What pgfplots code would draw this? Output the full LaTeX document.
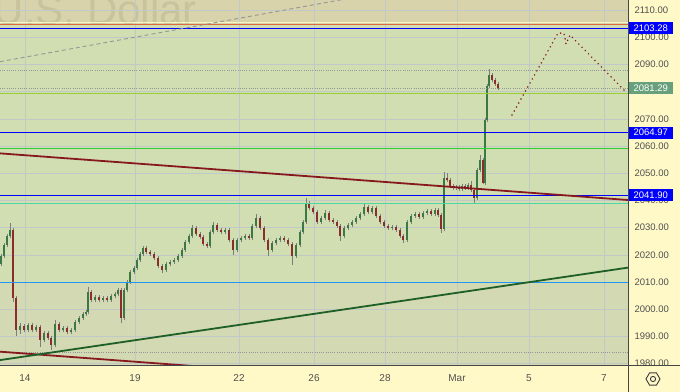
\documentclass[border=0pt]{standalone}
\usepackage{fontspec}
\setmainfont{Liberation Sans}
\usepackage{pgfplots}
\usepackage{pgfplotstable}
\pgfplotsset{compat=1.18}
\usetikzlibrary{shapes.geometric}

\definecolor{panel}{RGB}{255,249,200}
\definecolor{bgG}{RGB}{209,222,177}
\definecolor{bgT}{RGB}{216,211,171}
\definecolor{bgB}{RGB}{211,217,178}
\definecolor{gridc}{RGB}{192,201,200}
\definecolor{wm}{RGB}{199,195,157}
\definecolor{tickc}{RGB}{80,80,80}
\definecolor{framec}{RGB}{70,70,70}
\definecolor{maroonc}{RGB}{135,25,30}
\definecolor{dgreen}{RGB}{30,95,40}
\definecolor{blueL}{RGB}{0,0,255}
\definecolor{mint}{RGB}{80,215,165}
\definecolor{ygreen}{RGB}{154,205,50}
\definecolor{green2}{RGB}{50,205,50}
\definecolor{lightblue}{RGB}{33,150,243}
\definecolor{orangel}{RGB}{225,105,65}
\definecolor{paleline}{RGB}{245,245,190}
\definecolor{dotgray}{RGB}{150,150,150}
\definecolor{wickc}{RGB}{125,125,125}
\definecolor{upc}{RGB}{60,120,70}
\definecolor{dnc}{RGB}{140,45,45}
\definecolor{boxgreen}{RGB}{104,160,124}
\definecolor{gearc}{RGB}{60,60,60}

\pgfplotstableread{
x o h l c
1 2016.8 2020.4 2016.0 2019.6
4 2019.6 2024.4 2018.8 2023.6
7 2023.6 2027.7 2022.8 2026.9
10 2026.9 2031.7 2026.1 2029.1
13 2029.1 2029.8 2002.6 2004.1
16 2004.1 2004.8 1990.2 1992.4
20 1992.4 1995.0 1990.9 1993.8
24 1993.8 1994.6 1991.6 1992.4
28 1992.4 1995.0 1991.6 1994.2
32 1994.2 1995.0 1991.6 1992.4
36 1992.4 1994.3 1991.6 1993.5
40 1993.5 1994.3 1986.1 1988.7
44 1988.7 1992.1 1987.9 1991.3
48 1991.3 1992.1 1988.6 1989.4
51 1989.4 1990.2 1985.0 1986.8
55 1986.8 1996.0 1986.0 1994.6
59 1994.6 1995.4 1991.6 1992.4
63 1992.4 1993.9 1991.6 1993.1
67 1993.1 1993.9 1990.8 1991.6
71 1991.6 1993.2 1990.8 1992.4
75 1992.4 1996.1 1991.6 1995.3
79 1995.3 1997.6 1994.5 1996.8
83 1996.8 1999.0 1996.0 1998.2
86 1998.2 1999.8 1997.4 1999.0
88 1999.0 2008.2 1998.2 2006.3
91 2006.3 2007.1 2002.6 2003.4
95 2003.4 2005.3 2002.6 2004.5
99 2004.5 2005.3 2002.6 2003.4
103 2003.4 2004.9 2002.6 2004.1
107 2004.1 2004.9 2002.6 2003.4
111 2003.4 2005.7 2002.6 2004.9
115 2004.9 2006.4 2004.1 2005.6
118 2005.6 2007.9 2004.8 2007.1
121 2007.1 2007.9 1994.9 1996.8
124 1996.8 2007.9 1996.0 2007.1
127 2007.1 2010.8 2006.3 2010.0
130 2010.0 2014.5 2009.2 2013.7
134 2013.7 2016.0 2012.9 2015.2
137 2015.2 2018.9 2014.4 2018.1
140 2018.1 2021.1 2017.3 2020.3
143 2020.3 2023.3 2019.5 2022.5
146 2022.5 2023.3 2020.2 2021.0
150 2021.0 2021.8 2019.5 2020.3
154 2020.3 2021.1 2018.0 2018.8
158 2018.8 2019.6 2015.1 2015.9
162 2015.9 2016.7 2013.3 2014.4
166 2014.4 2017.4 2013.6 2016.6
170 2016.6 2018.2 2015.8 2017.4
174 2017.4 2018.9 2016.6 2018.1
178 2018.1 2020.4 2017.3 2019.6
182 2019.6 2022.6 2018.8 2021.8
185 2021.8 2025.5 2021.0 2024.7
189 2024.7 2027.7 2023.9 2026.9
192 2026.9 2031.0 2026.1 2029.9
196 2029.9 2030.7 2026.9 2027.7
200 2027.7 2028.5 2025.8 2026.6
203 2026.6 2027.4 2023.2 2024.0
207 2024.0 2024.8 2022.4 2023.2
210 2023.2 2029.2 2022.4 2028.4
213 2028.4 2032.1 2027.6 2031.0
217 2031.0 2031.8 2028.3 2029.1
221 2029.1 2029.9 2027.6 2028.4
225 2028.4 2029.9 2027.6 2029.1
229 2029.1 2029.9 2024.6 2025.4
233 2025.4 2026.2 2019.9 2021.8
237 2021.8 2026.2 2021.0 2025.4
241 2025.4 2027.0 2024.6 2026.2
245 2026.2 2027.7 2025.4 2026.9
249 2026.9 2027.7 2025.4 2026.2
252 2026.2 2031.4 2025.4 2030.6
256 2030.6 2035.0 2029.8 2033.5
260 2033.5 2034.3 2029.1 2029.9
264 2029.9 2030.7 2024.6 2025.4
268 2025.4 2026.2 2019.6 2021.8
272 2021.8 2025.1 2021.0 2024.3
276 2024.3 2026.2 2023.5 2025.4
280 2025.4 2027.0 2024.6 2026.2
284 2026.2 2027.0 2024.6 2025.4
288 2025.4 2026.2 2023.2 2024.0
292 2024.0 2024.8 2016.2 2019.6
296 2019.6 2024.4 2018.8 2023.6
300 2023.6 2029.2 2022.8 2028.4
303 2028.4 2032.9 2027.6 2032.1
306 2032.1 2040.9 2031.3 2039.0
309 2039.0 2039.8 2036.4 2037.2
313 2037.2 2038.0 2034.9 2035.7
317 2035.7 2036.5 2031.3 2032.1
321 2032.1 2034.3 2031.3 2033.5
325 2033.5 2036.5 2032.7 2035.4
329 2035.4 2036.2 2032.0 2032.8
333 2032.8 2033.6 2031.3 2032.1
337 2032.1 2032.9 2029.8 2030.6
340 2030.6 2031.4 2025.1 2026.9
344 2026.9 2030.7 2026.1 2029.9
348 2029.9 2031.8 2029.1 2031.0
352 2031.0 2032.9 2030.2 2032.1
356 2032.1 2034.3 2031.3 2033.5
360 2033.5 2035.8 2032.7 2035.0
364 2035.0 2038.7 2034.2 2037.6
368 2037.6 2038.4 2034.9 2035.7
372 2035.7 2038.0 2034.9 2037.2
376 2037.2 2038.0 2033.5 2034.3
380 2034.3 2035.1 2031.3 2032.1
384 2032.1 2032.9 2029.8 2030.6
388 2030.6 2031.4 2029.1 2029.9
392 2029.9 2031.0 2029.1 2030.2
396 2030.2 2031.0 2028.3 2029.1
400 2029.1 2029.9 2026.1 2026.9
403 2026.9 2027.7 2024.3 2025.4
407 2025.4 2032.9 2024.6 2032.1
411 2032.1 2035.1 2031.3 2034.3
415 2034.3 2035.8 2033.5 2035.0
419 2035.0 2035.8 2033.1 2033.9
423 2033.9 2036.2 2033.1 2035.4
427 2035.4 2036.9 2034.6 2036.1
431 2036.1 2036.9 2034.2 2035.0
435 2035.0 2037.3 2034.2 2036.5
438 2036.5 2037.3 2033.8 2034.6
441 2034.6 2035.4 2028.0 2029.5
444 2029.5 2050.4 2028.7 2048.2
447 2048.2 2050.0 2046.7 2047.5
450 2047.5 2048.3 2044.5 2045.3
453 2045.3 2046.1 2043.8 2044.6
456 2044.6 2045.7 2043.8 2044.9
459 2044.9 2045.7 2043.4 2044.2
462 2044.2 2046.1 2043.4 2045.3
465 2045.3 2046.1 2043.8 2044.6
468 2044.6 2046.5 2043.8 2045.7
471 2045.7 2047.0 2043.0 2043.8
474 2043.8 2044.6 2039.1 2040.9
477 2040.9 2052.0 2040.1 2051.2
480 2051.2 2056.7 2050.4 2054.9
483 2054.9 2055.7 2046.0 2046.4
485 2046.4 2070.4 2045.6 2069.6
487 2069.6 2082.9 2068.8 2082.1
489 2082.1 2088.3 2081.3 2086.1
492 2086.1 2086.9 2083.5 2084.3
495 2084.3 2085.1 2082.0 2082.8
498 2082.8 2083.6 2080.5 2081.3
}\candles

\begin{document}
\begin{tikzpicture}[x=1pt,y=1pt]
\fill[panel] (-2000,-2000) rectangle (2000,2000);

\begin{axis}[
  scale only axis,
  width=628pt, height=365pt,
  xmin=0, xmax=628, ymin=1979.5, ymax=2113.68,
  axis line style={draw=none}, major tick length=0pt,
  xtick={25,135,239,314,385,457,529,604},
  xticklabels={14,19,22,26,28,Mar,5,7},
  ytick={1980,1990,2000,2010,2020,2030,2040,2050,2060,2070,2080,2090,2100,2110},
  yticklabel pos=right,
  scaled y ticks=false,
  /pgf/number format/assume math mode=true,
  yticklabel style={/pgf/number format/fixed, /pgf/number format/fixed zerofill,
    /pgf/number format/precision=2, /pgf/number format/1000 sep={},
    anchor=west, xshift=3pt},
  tick label style={font=\fontsize{9.5}{11}\selectfont, text=tickc},
  xticklabel style={font=\fontsize{10}{12}\selectfont, anchor=base, yshift=-16.5pt},
  clip=true,
]
% background bands
\fill[bgB] (axis cs:0,1960) rectangle (axis cs:628,2010);
\fill[bgG] (axis cs:0,2010) rectangle (axis cs:628,2104.7);
\fill[bgT] (axis cs:0,2104.7) rectangle (axis cs:628,2130);
\node[anchor=base east, font=\fontsize{42}{42}\selectfont, text=wm, inner sep=0pt]
  at (axis cs:197,2104.5) {U.S. Dollar};
% grid
\pgfplotsinvokeforeach{1980,1990,...,2110}{
  \addplot[gridc, line width=0.6pt, forget plot] coordinates {(0,#1) (628,#1)};
}
\pgfplotsinvokeforeach{25,135,239,314,385,457,529,604}{
  \addplot[gridc, line width=0.6pt, forget plot] coordinates {(#1,1970) (#1,2120)};
}
% candles: wicks (segments from low to high)
\addplot[wickc, line width=0.6pt, mark=none, forget plot,
  quiver={u=0, v=\thisrow{h}-\thisrow{l}}]
  table[x=x, y=l] {\candles};
% up bodies
\addplot[upc, line width=1.3pt, mark=none, forget plot, unbounded coords=discard,
  quiver={u=0, v=\thisrow{c}-\thisrow{o}}]
  table[x=x, y expr={\thisrow{c}>=\thisrow{o} ? \thisrow{o} : nan}] {\candles};
% down bodies
\addplot[dnc, line width=1.3pt, mark=none, forget plot, unbounded coords=discard,
  quiver={u=0, v=\thisrow{o}-\thisrow{c}}]
  table[x=x, y expr={\thisrow{c}<\thisrow{o} ? \thisrow{c} : nan}] {\candles};

% horizontal levels
\addplot[paleline, line width=0.7pt] coordinates {(0,2105.3) (628,2105.3)};
\addplot[orangel, line width=1.1pt] coordinates {(0,2104.7) (628,2104.7)};
\addplot[blueL, line width=1.5pt] coordinates {(0,2103.28) (628,2103.28)};
\addplot[dotgray, line width=0.7pt, dash pattern=on 1pt off 1.2pt] coordinates {(0,2088.0) (628,2088.0)};
\addplot[dotgray, line width=0.7pt, dash pattern=on 1pt off 1.2pt] coordinates {(0,2081.29) (628,2081.29)};
\addplot[ygreen, line width=0.8pt] coordinates {(0,2079.4) (628,2079.4)};
\addplot[blueL, line width=1.5pt] coordinates {(0,2064.97) (628,2064.97)};
\addplot[green2, line width=0.8pt] coordinates {(0,2059.2) (628,2059.2)};
\addplot[blueL, line width=1.5pt] coordinates {(0,2041.90) (628,2041.90)};
\addplot[mint, line width=0.8pt] coordinates {(0,2038.9) (628,2038.9)};
\addplot[lightblue, line width=0.8pt] coordinates {(0,2010.0) (628,2010.0)};
\addplot[dotgray, line width=0.7pt, dash pattern=on 1pt off 1.2pt] coordinates {(0,1984.0) (628,1984.0)};
% trend lines
\addplot[dotgray, line width=0.9pt, dash pattern=on 4pt off 3pt] coordinates {(0,2091.0) (628,2132.9)};
\addplot[maroonc, line width=1.8pt] coordinates {(0,2057.3) (628,2040.15)};
\addplot[maroonc, line width=1.8pt] coordinates {(0,1984.4) (300,1976.2)};
\addplot[dgreen, line width=1.8pt] coordinates {(0,1981.3) (628,2015.3)};
% forecast path
\addplot[maroonc, line width=1.7pt, line cap=round, dash pattern=on 0pt off 4.6pt]
  coordinates {(512,2071.4) (558,2101.5) (564,2101.5) (566,2097.5) (570,2100.8) (624,2080.6)};

\coordinate (SW) at (rel axis cs:0,0);
\coordinate (SE) at (rel axis cs:1,0);
\coordinate (NE) at (rel axis cs:1,1);
\coordinate (b1) at (axis cs:628,2103.28);
\coordinate (b2) at (axis cs:628,2081.29);
\coordinate (b3) at (axis cs:628,2064.97);
\coordinate (b4) at (axis cs:628,2041.90);
\end{axis}

\fill[panel] ([yshift=-0.4pt]SE) rectangle ([xshift=60pt,yshift=-30pt]SE);
\draw[framec, line width=0.8pt] ([yshift=-0.3pt]SW) -- ([xshift=60pt,yshift=-0.3pt]SE);
\draw[framec, line width=0.8pt] ([xshift=0.3pt,yshift=-30pt]SE) -- ([xshift=0.3pt,yshift=30pt]NE);

\tikzset{pbox/.style={anchor=west, text=white, minimum width=44pt, minimum height=12pt,
  inner sep=0pt, font=\fontsize{9.5}{11}\selectfont}}
\node[pbox, fill=blueL] at ([xshift=0.6pt]b1) {2103.28};
\node[pbox, fill=boxgreen] at ([xshift=0.6pt]b2) {2081.29};
\node[pbox, fill=blueL] at ([xshift=0.6pt]b3) {2064.97};
\node[pbox, fill=blueL] at ([xshift=0.6pt]b4) {2041.90};

\node[draw=gearc, line width=0.9pt, regular polygon, regular polygon sides=6,
  minimum size=14pt, inner sep=0pt] at ([xshift=25pt,yshift=-14pt]SE) {};
\draw[gearc, line width=0.9pt] ([xshift=25pt,yshift=-14pt]SE) circle (2.6pt);

\pgfresetboundingbox
\path[use as bounding box] ([yshift=-26pt]SW) rectangle ([xshift=52pt]NE);
\end{tikzpicture}
\end{document}
